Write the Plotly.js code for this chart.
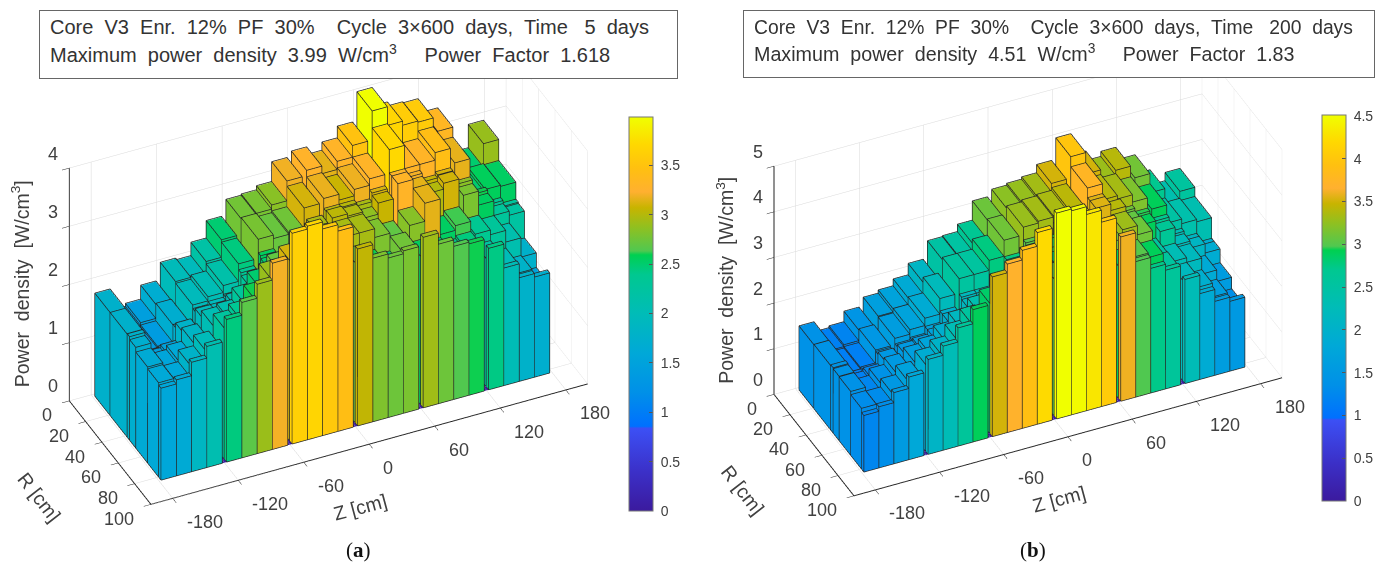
<!DOCTYPE html>
<html><head><meta charset="utf-8">
<script src="https://cdn.plot.ly/plotly-3.0.1.min.js"></script>
<style>html,body{margin:0;padding:0;background:#fff}#p{width:1390px;height:566px}</style></head>
<body><div id="p"></div>
<script>
// one row per Z column, one value per R row
const powerA = [
[1.77,1.77,1.78,1.73,1.65,1.62,1.58],[1.40,1.38,1.40,1.45,1.55,1.60,1.65],[1.45,1.41,1.42,1.50,1.62,1.80,1.88],[1.69,1.71,1.72,1.80,1.85,1.98,2.08],
[1.99,1.96,1.90,1.95,2.05,2.25,2.45],[1.96,2.03,1.95,1.95,2.10,2.35,2.67],[2.19,2.15,2.00,2.05,2.30,2.60,2.91],[2.49,2.45,2.35,2.30,2.50,2.90,3.20],
[2.76,2.78,2.55,2.50,2.70,3.10,3.62],[2.78,2.72,2.45,2.45,2.65,3.00,3.67],[2.85,2.75,2.50,2.55,2.60,2.90,3.55],[3.19,3.10,2.60,2.96,2.80,3.00,3.44],
[3.28,3.17,3.00,3.02,2.95,2.75,3.04],[3.15,3.07,3.00,2.98,2.95,2.60,2.81],[3.29,3.18,2.95,2.87,2.80,2.50,2.74],[3.49,3.29,3.10,3.06,2.69,2.75,2.79],
[3.99,3.70,3.30,3.30,2.84,2.55,2.93],[3.67,3.30,3.20,3.15,3.15,2.50,2.74],[3.60,3.30,3.05,2.99,2.54,2.40,2.63],[3.58,3.43,3.10,3.09,2.62,2.45,2.60],
[3.33,3.16,2.85,2.79,2.38,2.20,2.43],[2.50,2.50,2.60,2.55,2.30,2.00,2.02],[2.50,2.56,2.35,2.30,2.10,1.80,1.78],[2.90,2.54,2.25,2.23,1.77,1.52,1.72]];
const powerB = [
[1.40,1.41,1.43,1.41,1.40,1.33,1.24],[1.18,1.15,1.16,1.18,1.25,1.32,1.34],[1.22,1.18,1.20,1.25,1.40,1.50,1.56],[1.45,1.48,1.45,1.50,1.55,1.70,1.81],
[1.64,1.62,1.50,1.55,1.65,1.90,2.08],[1.71,1.72,1.55,1.60,1.75,2.05,2.28],[1.86,1.88,1.70,1.70,1.95,2.30,2.59],[2.11,2.22,1.95,1.95,2.15,2.55,2.90],
[2.49,2.54,2.20,2.15,2.35,2.85,3.50],[2.51,2.54,2.20,2.15,2.35,2.85,3.69],[2.67,2.76,2.40,2.30,2.45,2.80,3.90],[3.09,3.11,2.75,2.65,2.75,3.00,4.20],
[3.23,3.28,3.00,2.95,2.85,3.00,4.51],[3.27,3.32,2.95,2.95,2.85,3.10,4.47],[3.32,3.35,3.20,3.05,3.00,3.10,4.30],[3.50,3.41,3.40,3.45,3.20,3.25,4.04],
[3.97,3.75,3.54,3.54,3.10,2.90,3.60],[3.50,3.40,3.30,3.40,3.30,3.00,2.97],[3.29,3.33,3.10,3.05,3.10,2.90,2.73],[3.40,3.17,2.95,2.90,2.53,2.55,2.60],
[3.12,2.90,2.70,2.64,2.30,2.20,2.28],[2.70,2.50,2.30,2.25,2.20,1.95,1.88],[2.37,2.40,2.10,2.10,1.85,1.65,1.62],[2.55,2.35,1.90,1.90,1.60,1.35,1.53]];
const zColumnStarts = [-178,-164,-150,-136,-118,-104,-90,-76,-58,-44,-30,-16,2,16,30,44,62,76,90,104,122,136,150,164];
const zColumnWidth = 14;
const zGapStarts = [-122,-62,-2,58,118];
const zGapWidth = 4;
const rEdges = [1.8,20.5,41.5,44.5,52,66.5,80,83];
const zTicks = [-180,-120,-60,0,60,120,180];
const rTicks = [0,20,40,60,80,100];
const pTicksA = [0,1,2,3,4];
const pTicksB = [0,1,2,3,4,5];
const cbTicksA = [0,0.5,1,1.5,2,2.5,3,3.5];
const cbTicksB = [0,0.5,1,1.5,2,2.5,3,3.5,4,4.5];
const maxA = 3.99, maxB = 4.51;

const cmap = [[0,'#3b1a9e'],[0.1,'#3b30c8'],[0.21,'#3c50f5'],[0.215,'#0070ff'],[0.3,'#0090e8'],[0.4,'#00a8d8'],[0.5,'#00bcb8'],[0.6,'#00c890'],[0.65,'#00d050'],[0.66,'#50c850'],[0.72,'#90c020'],[0.77,'#c8b400'],[0.81,'#ffb030'],[0.87,'#ffc010'],[0.93,'#ffd800'],[1,'#f0ff00']];
const font = 'Liberation Sans, Arial, sans-serif';
const txt = '#404040';

function build(power, cmax, scene, cbX, cbY, cbLen, cbTicks){
  const X=[],Y=[],Z=[],I=[],J=[],K=[],C=[];
  const ex=[],ey=[],ez=[];
  const eZ=0.25,eR=0.12,eP=0.008;   // faces sit just inside their outlines so the outlines survive the depth test
  function bar(z0,z1,r0,r1,h,edges){
    const b=X.length;
    const px=[z0,z1,z1,z0,z0,z1,z1,z0],py=[r0,r0,r1,r1,r0,r0,r1,r1],pz=[0,0,0,0,h,h,h,h];
    for(let i=0;i<8;i++){
      X.push(edges?px[i]+(px[i]===z0?eZ:-eZ):px[i]);
      Y.push(edges?py[i]+(py[i]===r0?eR:-eR):py[i]);
      Z.push(edges&&pz[i]>0?pz[i]-eP:pz[i]);
    }
    const faces = h>0 ? [[0,1,2],[0,2,3],[4,5,6],[4,6,7],[0,1,5],[0,5,4],[1,2,6],[1,6,5],[2,3,7],[2,7,6],[3,0,4],[3,4,7]] : [[4,5,6],[4,6,7]];
    faces.forEach(f=>{I.push(b+f[0]);J.push(b+f[1]);K.push(b+f[2]);C.push(h);});
    if(edges){
      [[0,1],[1,2],[2,3],[3,0],[4,5],[5,6],[6,7],[7,4],[0,4],[1,5],[2,6],[3,7]].forEach(s=>{
        ex.push(px[s[0]],px[s[1]],null);ey.push(py[s[0]],py[s[1]],null);ez.push(pz[s[0]],pz[s[1]],null);
      });
    }
  }
  power.forEach((col,c)=>col.forEach((h,r)=>bar(zColumnStarts[c],zColumnStarts[c]+zColumnWidth,rEdges[r],rEdges[r+1],h,true)));
  zGapStarts.forEach(g=>bar(g,g+zGapWidth,rEdges[0],rEdges[7],0,false));
  return [{
    type:'mesh3d',scene,x:X,y:Y,z:Z,i:I,j:J,k:K,intensity:C,intensitymode:'cell',
    colorscale:cmap,cmin:0,cmax,flatshading:true,hoverinfo:'skip',
    lighting:{ambient:1,diffuse:0,specular:0,roughness:1,fresnel:0},
    colorbar:{x:cbX,xanchor:'left',xpad:0,y:cbY,yanchor:'middle',ypad:0,len:cbLen,lenmode:'pixels',thickness:24,thicknessmode:'pixels',
      tickvals:cbTicks,ticktext:cbTicks.map(v=>'\u00a0'+v),ticks:'inside',ticklen:4,tickcolor:'#555',outlinecolor:'#777',outlinewidth:1,
      tickfont:{family:font,size:14,color:txt}}
  },{
    type:'scatter3d',scene,mode:'lines',x:ex,y:ey,z:ez,line:{color:'#262626',width:1.5},connectgaps:false,hoverinfo:'skip',showlegend:false
  }];
}
function axisStyle(range,tickvals){
  return {range,tickvals,showticklabels:false,title:{text:''},showgrid:true,gridcolor:'#d9d9d9',gridwidth:1,zeroline:false,
    showline:true,linecolor:'#222',linewidth:2,ticks:'outside',ticklen:8,tickcolor:'#222',tickwidth:1,showspikes:false,showbackground:false};
}
function sceneLayout(xd,yd,scale,pTicks,pTop){
  const labels=[];
  const tf={family:font,size:18,color:txt};
  rTicks.forEach(t=>labels.push({x:-200,y:t,z:0,text:String(t),showarrow:false,xanchor:'right',xshift:-15,yshift:-15,font:tf}));
  zTicks.forEach(t=>labels.push({x:t,y:100,z:0,text:String(t),showarrow:false,xanchor:'left',xshift:12,yshift:-24,font:tf}));
  pTicks.forEach(t=>labels.push({x:-200,y:0,z:t,text:String(t),showarrow:false,xanchor:'right',xshift:-9,yshift:14,font:tf}));
  const ttl={family:font,size:19.5,color:txt};
  labels.push({x:0,y:100,z:0,text:'Z [cm]',showarrow:false,textangle:-15,xshift:-9,yshift:-63,font:ttl});
  labels.push({x:-200,y:50,z:0,text:'R [cm]',showarrow:false,textangle:52,xshift:-71,yshift:-45,font:ttl});
  labels.push({x:-200,y:0,z:pTop/2,text:'Power\u00a0\u00a0density\u00a0\u00a0[W/cm<sup>3</sup>]',showarrow:false,textangle:-90,xshift:-49,yshift:0,font:ttl});
  return {
    domain:{x:xd,y:yd},
    xaxis:axisStyle([-200,200],zTicks),
    yaxis:axisStyle([100,0],rTicks),
    zaxis:axisStyle([0,pTop],pTicks),
    aspectmode:'manual',aspectratio:{x:scale,y:0.4007*scale,z:0.5991*scale},
    camera:{projection:{type:'orthographic'},up:{x:0,y:0,z:1},center:{x:0,y:0,z:0},
      eye:{x:-0.3407*1.6,y:-0.7307*1.6,z:0.5912*1.6}},
    annotations:labels,bgcolor:'rgba(0,0,0,0)'
  };
}
const W=1390,H=566;
const px=(a,b)=>[a/W,b/W];
const py=(top,bot)=>[1-bot/H,1-top/H];
const sp='\u00a0';
function head(x,y,s,size){return {xref:'paper',yref:'paper',x:x/W,y:1-y/H,xanchor:'left',yanchor:'middle',showarrow:false,text:s,font:{family:font,size:size,color:'#333'}};}
function box(x0,x1,y0,y1){return {xref:'paper',yref:'paper',x:x0/W,y:1-y0/H,xanchor:'left',yanchor:'top',showarrow:false,text:sp,width:x1-x0,height:y1-y0,bgcolor:'#fff',bordercolor:'#666',borderwidth:1,borderpad:0};}
const layout={
  width:W,height:H,margin:{l:0,r:0,t:0,b:0},paper_bgcolor:'#fff',showlegend:false,
  scene:sceneLayout(px(0,657),py(35.5,515.5),2.008,pTicksA,4),
  scene2:sceneLayout(px(720,1336),py(31.5,511.5),1.968,pTicksB,5),
  annotations:[
    box(39,676,10,77),box(743,1373,10,76),
    head(48,27,'Core  V3  Enr.  12%  PF  30%    Cycle  3×600  days,  Time   5  days'.replace(/ /g,sp),20),
    head(48,53,'Maximum  power  density  3.99  W/cm<sup>3</sup>     Power  Factor  1.618'.replace(/ /g,sp),20),
    head(752,27,'Core  V3  Enr.  12%  PF  30%    Cycle  3×600  days,  Time   200  days'.replace(/ /g,sp),19.3),
    head(752,53,'Maximum  power  density  4.51  W/cm<sup>3</sup>     Power  Factor  1.83'.replace(/ /g,sp),19.7),
    {xref:'paper',yref:'paper',x:344/W,y:1-550/H,yanchor:'middle',showarrow:false,text:'(<b>a</b>)',font:{family:'Liberation Serif, serif',size:21,color:'#111'}},
    {xref:'paper',yref:'paper',x:1048/W,y:1-550/H,yanchor:'middle',showarrow:false,text:'(<b>b</b>)',font:{family:'Liberation Serif, serif',size:21,color:'#111'}}
  ]
};
const data=[].concat(build(powerA,maxA,'scene',629/W,1-314/H,394,cbTicksA),build(powerB,maxB,'scene2',1322/W,1-308/H,386,cbTicksB));
Plotly.newPlot('p',data,layout,{displayModeBar:false});
</script></body></html>
